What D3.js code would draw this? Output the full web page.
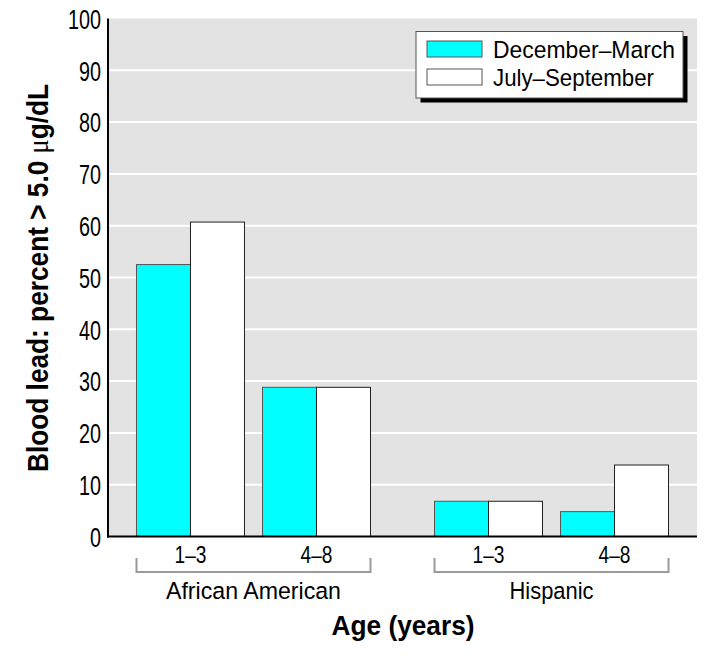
<!DOCTYPE html>
<html>
<head>
<meta charset="utf-8">
<script src="https://cdn.jsdelivr.net/npm/d3@7"></script>
<style>
  html, body { margin: 0; padding: 0; background: #fff; }
  svg { display: block; }
</style>
</head>
<body>
<svg id="chart" width="712" height="656"></svg>
<script>
// ---- data ----
const groups = ["African American", "Hispanic"];
const ages = ["1–3", "4–8"];
const seriesNames = ["December–March", "July–September"];
const seriesColors = ["#00ffff", "#ffffff"];
// values in group/age order: AA 1–3, AA 4–8, Hispanic 1–3, Hispanic 4–8
const decemberMarch = [52.5, 28.8, 6.8, 4.8];
const julySeptember = [60.7, 28.8, 6.8, 13.8];
const yTickValues = [0, 10, 20, 30, 40, 50, 60, 70, 80, 90, 100];
const yTitle = "Blood lead: percent > 5.0 ";
const yTitleUnit = ["μ", "g/dL"];
const xTitle = "Age (years)";

(function () {
const rows = [];
groups.forEach((g, gi) => ages.forEach((a, ai) => {
  const i = gi * ages.length + ai;
  rows.push({ group: g, age: a, values: [decemberMarch[i], julySeptember[i]] });
}));

// ---- layout ----
const svg = d3.select("#chart");
const pL = 108, pR = 697, pT = 18.5, pB = 536.5;
const font = "'Liberation Sans', Arial, sans-serif";
const narrow = (sel, w) => sel.attr("textLength", w).attr("lengthAdjust", "spacingAndGlyphs");

const y = d3.scaleLinear().domain([0, 100]).range([pB, pT]);
const x0 = d3.scaleBand().domain(groups).range([pL, pR])
  .paddingInner(0.2148).paddingOuter(0.0956);
const x1 = d3.scaleBand().domain(ages).range([0, x0.bandwidth()])
  .paddingInner(0.143).paddingOuter(0);
const x2 = d3.scaleBand().domain([0, 1]).range([0, x1.bandwidth()]);

// background
svg.append("rect").attr("x", pL).attr("y", pT)
  .attr("width", pR - pL).attr("height", pB - pT)
  .attr("fill", "#e3e3e3");

// gridlines
svg.append("g").selectAll("line")
  .data(yTickValues.filter(v => v > 0 && v < 100))
  .join("line")
  .attr("x1", pL).attr("x2", pR)
  .attr("y1", d => y(d)).attr("y2", d => y(d))
  .attr("stroke", "#ffffff").attr("stroke-width", 2);

// bars
const gBars = svg.append("g");
rows.forEach(r => {
  const bx = x0(r.group) + x1(r.age);
  gBars.append("g").selectAll("rect").data(r.values).join("rect")
    .attr("x", (d, i) => bx + x2(i))
    .attr("y", d => y(d))
    .attr("width", x2.bandwidth())
    .attr("height", d => y(0) - y(d))
    .attr("fill", (d, i) => seriesColors[i])
    .attr("stroke", (d, i) => i === 0 ? "#555" : "#222")
    .attr("stroke-width", 1);
});

// y axis
const yAxis = d3.axisLeft(y).tickValues(yTickValues).tickSize(0).tickPadding(7)
  .tickFormat(d3.format("d"));
const gy = svg.append("g").attr("transform", `translate(${pL},0)`).call(yAxis);
gy.select(".domain").remove();
gy.selectAll("text").attr("font-family", font).attr("font-size", 27).attr("fill", "#000")
  .attr("dy", "0.36em")
  .attr("textLength", d => String(d).length * 11).attr("lengthAdjust", "spacingAndGlyphs");

// axis lines
svg.append("line").attr("x1", pL).attr("x2", pL).attr("y1", pT).attr("y2", pB + 1)
  .attr("stroke", "#000").attr("stroke-width", 2);
svg.append("line").attr("x1", pL - 1).attr("x2", pR).attr("y1", pB).attr("y2", pB)
  .attr("stroke", "#000").attr("stroke-width", 2);

// age labels
rows.forEach(r => {
  svg.append("text")
    .attr("x", x0(r.group) + x1(r.age) + x1.bandwidth() / 2)
    .attr("y", 563)
    .attr("text-anchor", "middle")
    .attr("font-family", font).attr("font-size", 24.5)
    .call(narrow, 32)
    .text(r.age);
});

// group brackets and labels
const groupLabelWidths = [175, 84];
groups.forEach((g, gi) => {
  const gx = x0(g), gw = x0.bandwidth();
  svg.append("path")
    .attr("d", `M${gx},558V572H${gx + gw}V558`)
    .attr("fill", "none").attr("stroke", "#9a9a9a").attr("stroke-width", 2);
  svg.append("text")
    .attr("x", gx + gw / 2).attr("y", 599)
    .attr("text-anchor", "middle")
    .attr("font-family", font).attr("font-size", 24.5)
    .call(narrow, groupLabelWidths[gi])
    .text(g);
});

// x title
svg.append("text")
  .attr("x", 403).attr("y", 635)
  .attr("text-anchor", "middle")
  .attr("font-family", font).attr("font-size", 28).attr("font-weight", "bold")
  .call(narrow, 143)
  .text(xTitle);

// y title
const yt = svg.append("text")
  .attr("transform", `translate(48,278) rotate(-90)`)
  .attr("text-anchor", "middle")
  .attr("font-family", font).attr("font-size", 29).attr("font-weight", "bold")
  .call(narrow, 388);
yt.append("tspan").text(yTitle);
yt.append("tspan").attr("font-family", "'Liberation Serif', serif").attr("font-weight", "normal").text(yTitleUnit[0]);
yt.append("tspan").text(yTitleUnit[1]);

// legend
const lg = svg.append("g");
const lx = 416, ly = 31.5, lw = 267, lh = 66.5, sh = 4.5;
const legendWidths = [182, 161];
lg.append("rect").attr("x", lx + sh).attr("y", ly + sh).attr("width", lw).attr("height", lh).attr("fill", "#000");
lg.append("rect").attr("x", lx).attr("y", ly).attr("width", lw).attr("height", lh)
  .attr("fill", "#fff").attr("stroke", "#555").attr("stroke-width", 1);
seriesNames.forEach((s, i) => {
  const ry = 41 + i * 28;
  lg.append("rect").attr("x", 427).attr("y", ry).attr("width", 55).attr("height", 16)
    .attr("fill", seriesColors[i]).attr("stroke", "#555").attr("stroke-width", 1);
  lg.append("text").attr("x", 493).attr("y", ry + 16.5)
    .attr("font-family", font).attr("font-size", 24.5)
    .call(narrow, legendWidths[i])
    .text(s);
});
})();
</script>
</body>
</html>
